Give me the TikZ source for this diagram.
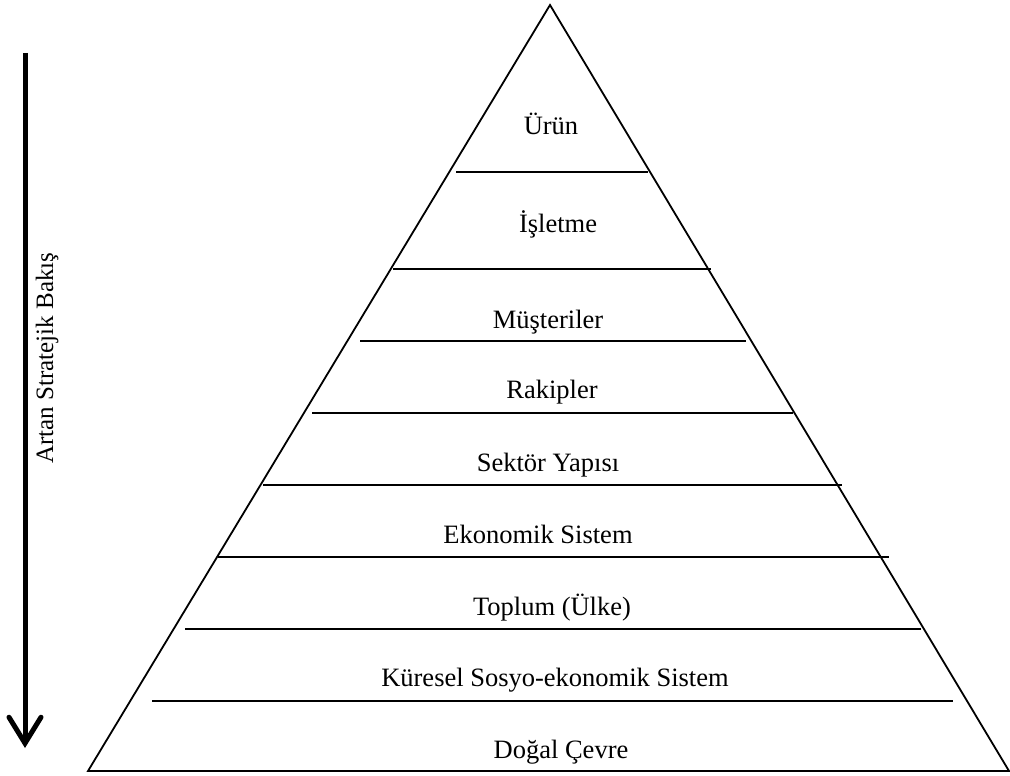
\documentclass[tikz,border=0pt]{standalone}
\usepackage{fontspec}
\setmainfont{Liberation Serif}
\usetikzlibrary{arrows.meta}
\tikzset{
  level/.style={anchor=base, inner sep=0pt, font=\fontsize{26.5}{30}\selectfont},
  divider/.style={line width=2.2pt},
  edge/.style={line width=1.8pt, line join=miter},
  sidelabel/.style={anchor=base, inner sep=0pt, rotate=90, font=\fontsize{25}{28}\selectfont},
}
\begin{document}
\begin{tikzpicture}[x=1pt, y=-1pt]
  \useasboundingbox (0,0) rectangle (1010,776);
  % pyramid outline
  \coordinate (apex) at (550,5);
  \coordinate (bl) at (88,771);
  \coordinate (br) at (1009,771);
  \draw[edge] (apex) -- (bl) -- (br) -- cycle;
  % dividers between the levels
  \foreach \y/\xl/\xr [count=\i] in {172/456/648, 269/393/711, 341/360/746, 413/312/793,
                          485/263/842, 557/218/889, 629/185/921, 701/152/953}{
    \coordinate (dl\i) at (\xl,\y);
    \coordinate (dr\i) at (\xr,\y);
    \draw[divider] (dl\i) -- (dr\i);
  }
  % level names
  \node[level] (urun) at (551,135) {Ürün};
  \node[level] (isletme) at (558,232) {İşletme};
  \node[level] (musteri) at (548,328) {Müşteriler};
  \node[level] (rakip) at (552,398) {Rakipler};
  \node[level] (sektor) at (548,471) {Sektör Yapısı};
  \node[level] (ekonomi) at (538,543) {Ekonomik Sistem};
  \node[level] (toplum) at (552,615) {Toplum (Ülke)};
  \node[level] (kuresel) at (555,686) {Küresel Sosyo-ekonomik Sistem};
  \node[level] (cevre) at (561,758) {Doğal Çevre};
  % strategic view arrow
  \coordinate (atop) at (25,53);
  \coordinate (abot) at (25,748);
  \draw[line width=5pt, -{Straight Barb[length=26pt, width=32pt, line cap=round]}] (atop) -- (abot);
  \node[sidelabel] (bakis) at (53,358) {Artan Stratejik Bakış};
\end{tikzpicture}
\end{document}
